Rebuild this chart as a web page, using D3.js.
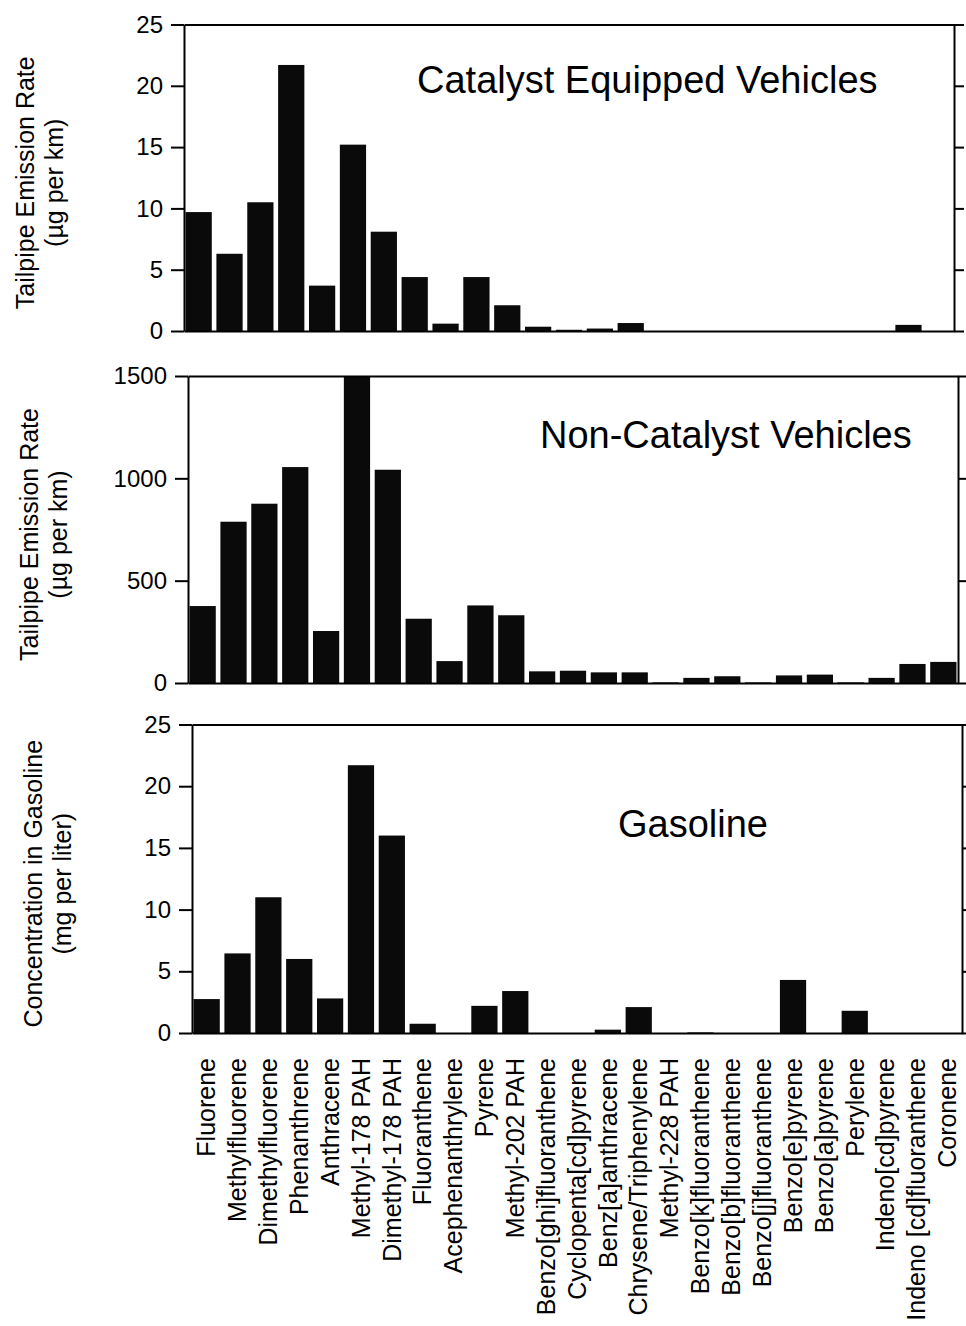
<!DOCTYPE html>
<html>
<head>
<meta charset="utf-8">
<script src="https://cdn.jsdelivr.net/npm/d3@7"></script>
<style>
  body { margin: 0; background: #fff; }
  svg { font-family: 'Liberation Sans', Arial, sans-serif; }
</style>
</head>
<body>
<div id="plot_area"></div>
<script>
// Categories (PAH compounds), shared by all three panels
const compounds = [
    'Fluorene', 'Methylfluorene', 'Dimethylfluorene', 'Phenanthrene', 'Anthracene',
    'Methyl-178 PAH', 'Dimethyl-178 PAH', 'Fluoranthene', 'Acephenanthrylene', 'Pyrene',
    'Methyl-202 PAH', 'Benzo[ghi]fluoranthene', 'Cyclopenta[cd]pyrene', 'Benz[a]anthracene',
    'Chrysene/Triphenylene', 'Methyl-228 PAH', 'Benzo[k]fluoranthene', 'Benzo[b]fluoranthene',
    'Benzo[j]fluoranthene', 'Benzo[e]pyrene', 'Benzo[a]pyrene', 'Perylene',
    'Indeno[cd]pyrene', 'Indeno [cd]fluoranthene', 'Coronene'
];

// Tailpipe emission rate, catalyst equipped vehicles (ug per km)
const catalystRate = [9.7, 6.3, 10.5, 21.7, 3.7, 15.2, 8.1, 4.4, 0.6, 4.4,
                      2.1, 0.35, 0.1, 0.2, 0.65, 0, 0, 0, 0, 0,
                      0, 0, 0, 0.5, 0];

// Tailpipe emission rate, non-catalyst vehicles (ug per km)
const nonCatalystRate = [376, 788, 876, 1055, 254, 1500, 1042, 314, 107, 379,
                         331, 57, 60, 52, 52, 3, 25, 33, 3, 37,
                         41, 3, 25, 93, 103];

// Concentration in gasoline (mg per liter)
const gasolineConc = [2.75, 6.45, 11.0, 6.0, 2.8, 21.7, 16.0, 0.75, 0, 2.2,
                      3.4, 0, 0, 0.27, 2.1, 0, 0.05, 0, 0, 4.3,
                      0, 1.8, 0, 0, 0];

// Tick values
const catalystTicks = [0, 5, 10, 15, 20, 25];
const nonCatalystTicks = [0, 500, 1000, 1500];
const gasolineTicks = [0, 5, 10, 15, 20, 25];

// Size of the page and of each panel
const w = 966;
const h = 1326;
const panelWidth = 770;

const svg = d3.select('#plot_area')
              .append('svg')
              .attr('width', w)
              .attr('height', h);

// Draw one panel of bars with its frame, axes and labels
function drawPanel(p) {
    const xScale = d3.scaleBand()
                    .domain(compounds)
                    .range([p.left, p.left + panelWidth])
                    .paddingInner(0.15)
                    .paddingOuter(0.05);

    const yScale = d3.scaleLinear()
                    .domain([0, p.ticks[p.ticks.length - 1]])
                    .range([p.bottom, p.top])
                    .clamp(true);

    // bars
    svg.append('g')
       .selectAll('rect')
       .data(p.values)
       .enter()
       .append('rect')
       .attr('x', (d, i) => xScale(compounds[i]))
       .attr('y', (d) => yScale(d))
       .attr('width', xScale.bandwidth())
       .attr('height', (d) => yScale(0) - yScale(d))
       .attr('fill', '#0a0a0a');

    // left axis with labels
    const leftAxis = svg.append('g')
       .attr('transform', 'translate(' + p.left + ',0)')
       .call(d3.axisLeft(yScale)
               .tickValues(p.ticks)
               .tickSize(13)
               .tickSizeOuter(0)
               .tickPadding(8)
               .tickFormat(d3.format('d')));

    // right axis, ticks only
    const rightAxis = svg.append('g')
       .attr('transform', 'translate(' + (p.left + panelWidth) + ',0)')
       .call(d3.axisRight(yScale)
               .tickValues(p.ticks)
               .tickSize(10)
               .tickSizeOuter(0)
               .tickFormat(''));

    // top frame line
    const topAxis = svg.append('g')
       .attr('transform', 'translate(0,' + p.top + ')')
       .call(d3.axisTop(xScale).tickSize(0).tickSizeOuter(0).tickFormat(''));

    // bottom axis; category names only under the last panel
    const bottomAxis = svg.append('g')
       .attr('transform', 'translate(0,' + p.bottom + ')')
       .call(d3.axisBottom(xScale).tickSize(0).tickSizeOuter(0)
               .tickFormat(p.showNames ? null : ''));

    if (p.showNames) {
        bottomAxis.selectAll('text')
           .attr('transform', 'rotate(-90)')
           .attr('x', -25)
           .attr('y', 0)
           .attr('dy', '0.35em')
           .style('text-anchor', 'end')
           .style('font-size', '25px');
    }

    [leftAxis, rightAxis, topAxis, bottomAxis].forEach(function (a) {
        a.attr('font-family', null)
         .attr('font-size', null);
        a.selectAll('path, line')
         .attr('stroke', '#000')
         .attr('stroke-width', 2);
    });
    leftAxis.selectAll('text')
       .attr('fill', '#000')
       .style('font-size', '24px');

    // panel title inside the plot area
    svg.append('text')
       .attr('x', p.left + p.titleX)
       .attr('y', p.top + p.titleY)
       .style('font-size', '38px')
       .text(p.title);

    // two-line y-axis title
    const cy = (p.top + p.bottom) / 2 + 5;
    p.yLabel.forEach(function (line, i) {
        svg.append('text')
           .attr('text-anchor', 'middle')
           .attr('transform', 'translate(' + (p.left - 150 + i * 29) + ',' + cy + ')rotate(-90)')
           .style('font-size', '25px')
           .text(line);
    });
}

drawPanel({
    values: catalystRate, ticks: catalystTicks,
    left: 184, top: 24.5, bottom: 331,
    title: 'Catalyst Equipped Vehicles', titleX: 233, titleY: 68,
    yLabel: ['Tailpipe Emission Rate', '(\u00b5g per km)'],
    showNames: false
});

drawPanel({
    values: nonCatalystRate, ticks: nonCatalystTicks,
    left: 188, top: 376, bottom: 683,
    title: 'Non-Catalyst Vehicles', titleX: 352, titleY: 72,
    yLabel: ['Tailpipe Emission Rate', '(\u00b5g per km)'],
    showNames: false
});

drawPanel({
    values: gasolineConc, ticks: gasolineTicks,
    left: 192, top: 724.5, bottom: 1033,
    title: 'Gasoline', titleX: 426, titleY: 112,
    yLabel: ['Concentration in Gasoline', '(mg per liter)'],
    showNames: true
});
</script>
</body>
</html>
